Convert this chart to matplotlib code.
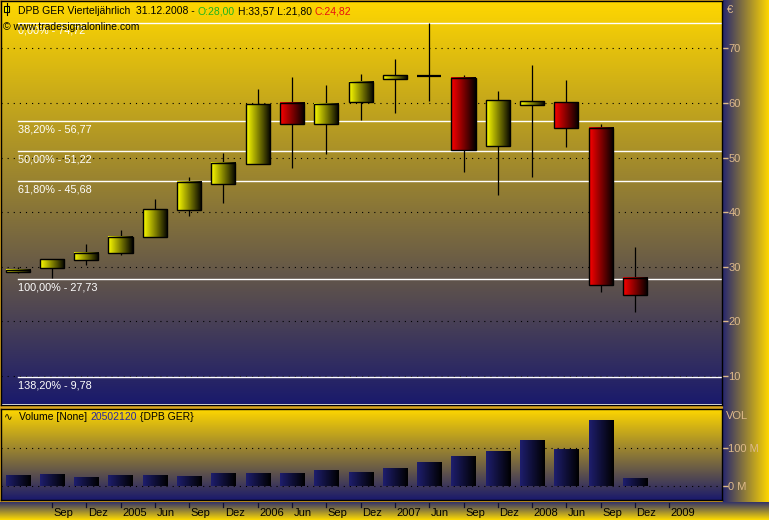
import numpy as np
import matplotlib
matplotlib.use('Agg')
import matplotlib.pyplot as plt
from matplotlib.patches import Rectangle
from matplotlib.lines import Line2D
import matplotlib.transforms as mtransforms

plt.rcParams['font.family'] = ['Liberation Sans', 'DejaVu Sans']

# ---------------- data ----------------
tick_labels = ['Sep', 'Dez', '2005', 'Jun', 'Sep', 'Dez', '2006', 'Jun', 'Sep', 'Dez',
               '2007', 'Jun', 'Sep', 'Dez', '2008', 'Jun', 'Sep', 'Dez', '2009']
opens = [29.0, 29.8, 31.2, 32.5, 35.5, 40.4, 45.1, 48.9, 60.0, 56.1,
         60.1, 64.4, 65.0, 64.5, 52.2, 59.7, 60.1, 55.4, 28.00]
highs = [30.0, 31.5, 34.2, 36.8, 42.5, 46.5, 50.9, 62.6, 64.8, 63.3,
         65.3, 68.0, 74.72, 65.1, 62.2, 67.0, 64.2, 56.2, 33.57]
lows = [28.9, 27.9, 30.4, 32.1, 35.4, 39.3, 41.6, 48.8, 48.0, 50.7,
        56.8, 58.2, 60.4, 47.4, 43.2, 46.5, 52.0, 25.3, 21.80]
closes = [29.4, 31.4, 32.5, 35.5, 40.6, 45.6, 49.0, 59.8, 56.1, 59.8,
          63.8, 65.1, 65.0, 51.3, 60.5, 60.3, 55.5, 26.6, 24.82]
volumes_m = [26.7, 29.3, 21.6, 26.7, 26.7, 24.1, 31.9, 31.9, 31.9, 39.7,
             34.5, 44.8, 60.3, 75.9, 88.8, 117.2, 94.0, 169.0, 20.5]
fib_pct = ['0,00%', '38,20%', '50,00%', '61,80%', '100,00%', '138,20%']
fib_val = [74.72, 56.77, 51.22, 45.68, 27.73, 9.78]
price_ticks = [10, 20, 30, 40, 50, 60, 70]
vol_ticks = [0, 100]
vol_tick_labels = ['0 M', '100 M']

# ---------------- layout helpers ----------------
W, H = 769, 520
fig = plt.figure(figsize=(W / 100, H / 100), dpi=100, facecolor='#DAA520')


def rect(x0, y0, x1, y1):
    return [x0 / W, 1 - y1 / H, (x1 - x0) / W, (y1 - y0) / H]


def fy(py):
    return 1 - py / H


GOLD = np.array([255, 215, 0]) / 255
NAVY = np.array([26, 26, 108]) / 255
STRIP_NAVY = np.array([40, 40, 110]) / 255
BLACK = np.array([0, 0, 0]) / 255
YEL = np.array([255, 255, 0]) / 255
RED = np.array([255, 0, 0]) / 255
BARNAVY = np.array([30, 30, 110]) / 255
TAN = '#DEBA8A'


def vgrad(top, bottom, n=256):
    t = np.linspace(0, 1, n)[:, None]
    return (top[None, :] * (1 - t) + bottom[None, :] * t)[:, None, :]


def hgrad(left, right, n=128):
    t = np.linspace(0, 1, n)[:, None]
    return (left[None, :] * (1 - t) + right[None, :] * t)[None, :, :]


# background strips
bg = fig.add_axes([0, 0, 1, 1])
bg.set_zorder(-5)
bg.axis('off')
bg.imshow(hgrad(STRIP_NAVY, GOLD), extent=(723, W, 502, 0), aspect='auto', interpolation='bilinear')
bg.imshow(vgrad(np.array([50, 50, 105]) / 255, np.array([255, 220, 0]) / 255),
          extent=(0, W, H, 502), aspect='auto', interpolation='bilinear')
bg.set_xlim(0, W)
bg.set_ylim(H, 0)

# x scale: candle i centre pixel = 17.6 + 34.3 * i
x_lo = (1 - 17.6) / 34.3
x_hi = (721.5 - 17.6) / 34.3
y_lo, y_hi = 4.79, 78.66
bw = 0.70

# ---------------- main price panel ----------------
ax = fig.add_axes(rect(1, 1, 721.5, 404.5))
ax.imshow(vgrad(GOLD, NAVY), extent=(x_lo, x_hi, y_lo, y_hi), aspect='auto',
          interpolation='bilinear', zorder=0)
for v in price_ticks:
    ax.axhline(v, color='black', lw=0.8, ls=(0, (1, 4.5)), zorder=1)

fib_x = (18 - 1) / 720.5
blend = mtransforms.blended_transform_factory(ax.transAxes, ax.transData)
for p, v in zip(fib_pct, fib_val):
    ax.axhline(v, xmin=fib_x, xmax=1, color='white', lw=1.0, zorder=2)
    ax.annotate(f"{p} - {v:.2f}".replace('.', ','), xy=(fib_x, v), xycoords=blend,
                xytext=(0, -2.5), textcoords='offset points', ha='left', va='top',
                color='white', fontsize=7.8, zorder=2)

for i, (o, h, l, c) in enumerate(zip(opens, highs, lows, closes)):
    ax.vlines(i, l, h, color='black', lw=0.9, zorder=3)
    lo, hi = min(o, c), max(o, c)
    col = YEL if c >= o else RED
    if hi - lo > 1e-6:
        ax.imshow(hgrad(col, BLACK), extent=(i - bw / 2, i + bw / 2, lo, hi), aspect='auto',
                  interpolation='bilinear', zorder=4)
    ax.add_patch(Rectangle((i - bw / 2, lo), bw, hi - lo, fill=False, ec='black',
                           lw=1.0 if hi - lo > 1e-6 else 1.6, zorder=5))

ax.set_xlim(x_lo, x_hi)
ax.set_ylim(y_lo, y_hi)
ax.set_xticks([])
ax.yaxis.tick_right()
ax.set_yticks(price_ticks)
ax.set_yticklabels([str(v) for v in price_ticks])
ax.tick_params(axis='y', length=4, width=1, color=TAN, labelcolor=TAN, labelsize=8, pad=1)
for s in ax.spines.values():
    s.set_color('black')
    s.set_linewidth(1)

# ---------------- volume panel ----------------
axv = fig.add_axes(rect(1, 408.5, 721.5, 499.5))
v_lo, v_hi = -34.2, 201.5
axv.imshow(vgrad(GOLD, NAVY), extent=(x_lo, x_hi, v_lo, v_hi), aspect='auto',
           interpolation='bilinear', zorder=0)
for v in vol_ticks:
    axv.axhline(v, color='black', lw=0.8, ls=(0, (1, 4.5)), zorder=1)
for i, v in enumerate(volumes_m):
    axv.imshow(hgrad(BARNAVY, BLACK), extent=(i - bw / 2, i + bw / 2, 0, v), aspect='auto',
               interpolation='bilinear', zorder=3)
axv.set_xlim(x_lo, x_hi)
axv.set_ylim(v_lo, v_hi)
axv.set_xticks([])
axv.yaxis.tick_right()
axv.set_yticks(vol_ticks)
axv.set_yticklabels(vol_tick_labels)
axv.tick_params(axis='y', length=4, width=1, color=TAN, labelcolor=TAN, labelsize=8, pad=1)
for s in axv.spines.values():
    s.set_color('black')
    s.set_linewidth(1)

# x axis ticks & labels in bottom strip
bt = mtransforms.blended_transform_factory(axv.transData, fig.transFigure)
for pos, lab in enumerate(tick_labels, start=1):
    fig.add_artist(Line2D([pos, pos], [fy(502.5), fy(507)], transform=bt, color='#101030', lw=0.9))
    fig.text(pos, fy(512.5), lab, transform=bt + mtransforms.ScaledTranslation(1.5 / 100, 0, fig.dpi_scale_trans),
             ha='left', va='center', fontsize=8, color='black')

# ---------------- texts ----------------
# title with icon
fig.add_artist(Line2D([6.5 / W, 6.5 / W], [fy(3), fy(15)], color='black', lw=0.8))
fig.add_artist(Rectangle((4 / W, fy(12)), 5 / W, 6 / H, facecolor='#FFFF00', edgecolor='black', lw=0.8))
t1 = fig.text(18 / W, fy(14), 'DPB GER Vierteljährlich  31.12.2008 -', fontsize=7.5,
              color='black', va='baseline')
t2 = fig.text(0, 0, 'O:28,00', fontsize=7.5, color='#1EB41E', va='baseline')
t3 = fig.text(0, 0, 'H:33,57 L:21,80', fontsize=7.5, color='black', va='baseline')
t4 = fig.text(0, 0, 'C:24,82', fontsize=7.5, color='#E81010', va='baseline')

fig.text(3 / W, fy(30), '© www.tradesignalonline.com', fontsize=7.5, color='black', va='baseline')
fig.text(727 / W, fy(10), '€', fontsize=8, color=TAN, va='center')
fig.text(726 / W, fy(416), 'VOL', fontsize=8, color=TAN, va='center')

v1 = fig.text(4 / W, fy(420), '∿', fontsize=7.5, color='black', va='baseline')
v2 = fig.text(19 / W, fy(420), 'Volume [None]', fontsize=7.5, color='black', va='baseline')
v3 = fig.text(0, 0, '20502120', fontsize=7.5, color='#2828A0', va='baseline')
v4 = fig.text(0, 0, '{DPB GER}', fontsize=7.5, color='black', va='baseline')

# chain positions using renderer extents
fig.canvas.draw()
r = fig.canvas.get_renderer()


def chain(prev, nxt, gap_px, base_y):
    bb = prev.get_window_extent(r)
    nxt.set_position(((bb.x1 + gap_px) / W, base_y))


chain(t1, t2, 3, fy(14))
chain(t2, t3, 3, fy(14))
chain(t3, t4, 3, fy(14))
chain(v2, v3, 3, fy(420))
chain(v3, v4, 3, fy(420))

fig.savefig('out.png', dpi=100, facecolor=fig.get_facecolor())
